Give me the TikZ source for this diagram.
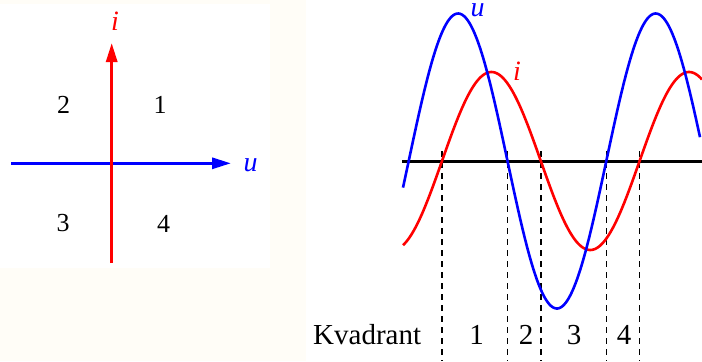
\documentclass[tikz,border=0pt]{standalone}
\usepackage{fontspec}
\setmainfont{Liberation Serif}
\usetikzlibrary{arrows.meta}
\definecolor{cream}{RGB}{255,253,247}
\tikzset{
  axisline/.style={line width=3bp},
  curve/.style={line width=2.6bp, smooth},
  guide/.style={line width=1.6bp, dash pattern=on 6bp off 5bp},
  qnum/.style={inner sep=0pt, font=\fontsize{26bp}{30bp}\selectfont},
  bnum/.style={inner sep=0pt, anchor=base, font=\fontsize{29bp}{33bp}\selectfont},
  lbl/.style={inner sep=0pt, anchor=base, font=\fontsize{28bp}{32bp}\selectfont\itshape},
  tip/.style={-{Triangle[length=19bp,width=11bp]}}
}
\begin{document}
\begin{tikzpicture}[x=1bp,y=-1bp]
\fill[cream] (0,0) rectangle (702,361);
\useasboundingbox (0,0) rectangle (702,361);
\fill[white] (0,4) rectangle (270,268);
\fill[white] (306,0) rectangle (702,361);
% left panel
\coordinate (hL) at (11,163.3);
\coordinate (hR) at (231,163.3);
\coordinate (vB) at (111.7,263);
\coordinate (vT) at (111.7,43);
\draw[axisline, blue, tip] (hL) -- (hR);
\draw[axisline, red, tip] (vB) -- (vT);
\node[lbl, blue] (lu) at (250.5,171.7) {u};
\node[lbl, red] (li) at (115,30) {i};
\node[qnum] (q2) at (63.5,104.5) {2};
\node[qnum] (q1) at (160,105) {1};
\node[qnum] (q3) at (63,223) {3};
\node[qnum] (q4) at (163.5,224) {4};
% right panel
\foreach \n/\xx in {d1/442, d2/507.5, d3/540.8, d4/606.3, d5/639.6} {
  \coordinate (\n t) at (\xx,151);
  \coordinate (\n b) at (\xx,361);
  \draw[guide] (\n t) -- (\n b);
}
\coordinate (aL) at (402,161);
\coordinate (aR) at (702,161);
\draw[axisline, black] (aL) -- (aR);
\draw[curve, red] plot[domain=403:702, samples=220] (\x, {161-89*sin((\x-442)*1.82186)});
\draw[curve, blue] plot[domain=403:700, samples=220] (\x, {161-147.5*sin((\x-408.7)*1.82186)});
\node[lbl, blue] (ru) at (477.5,16.5) {u};
\node[lbl, red] (ri) at (517,80) {i};
\node[bnum, anchor=base west] (kv) at (313,344) {Kvadrant};
\node[bnum] (k1) at (476.7,344) {1};
\node[bnum] (k2) at (526,344) {2};
\node[bnum] (k3) at (574,344) {3};
\node[bnum] (k4) at (624,344) {4};
\end{tikzpicture}
\end{document}
